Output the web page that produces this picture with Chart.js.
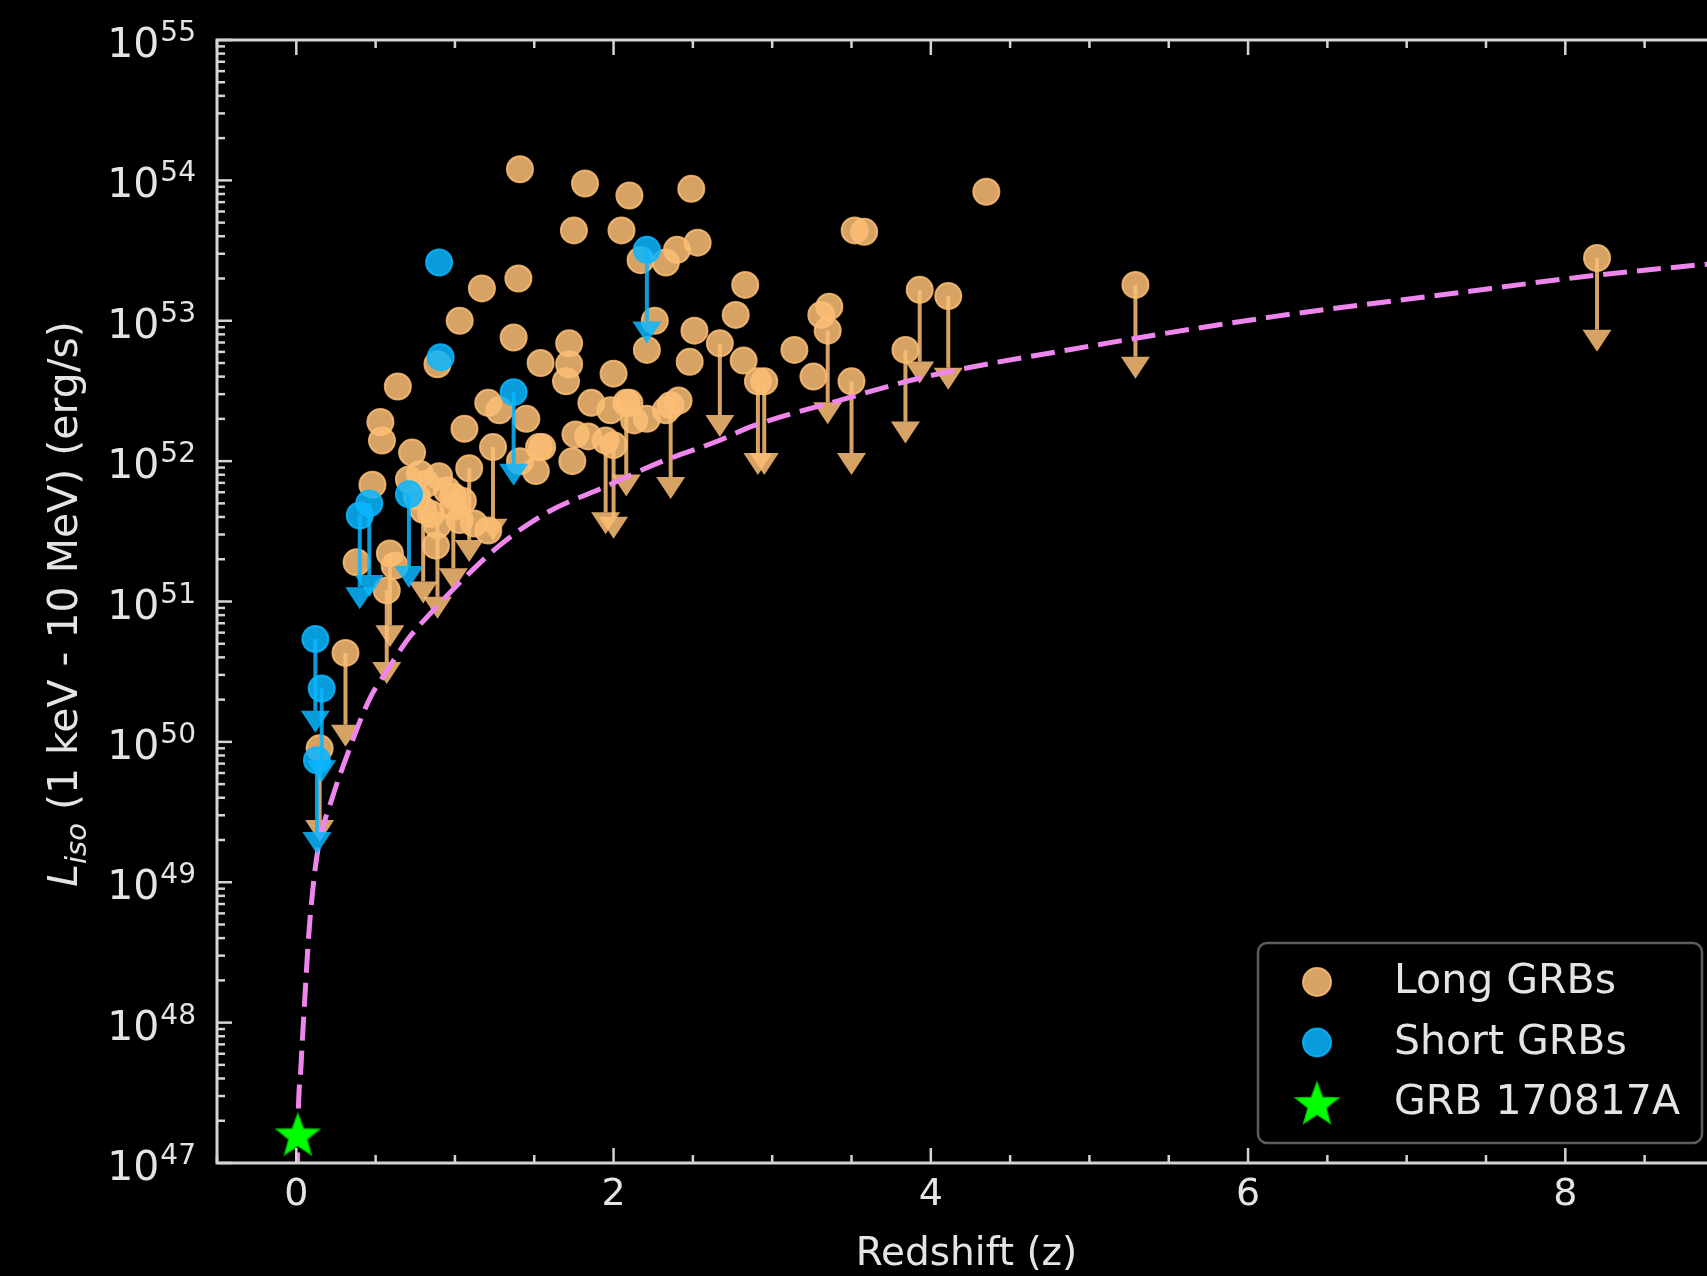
<!DOCTYPE html>
<html>
<head>
<meta charset="utf-8">
<title>GRB luminosity vs redshift</title>
<script src="https://cdn.jsdelivr.net/npm/chart.js@4.4.1/dist/chart.umd.min.js"></script>
<style>
html,body{margin:0;padding:0;background:#000;overflow:hidden;}
canvas{display:block;}
</style>
</head>
<body>
<canvas id="graficoGRB" width="1740" height="1276"></canvas>
<script>

// long bursts with a measured luminosity
const longZ = [
    1.41, 1.82, 2.10, 2.49, 4.35, 1.75, 2.05, 3.52, 3.58, 2.17,
    2.33, 2.40, 2.53, 1.17, 1.40, 1.03, 1.37, 0.89, 0.64, 1.54,
    1.72, 1.72, 1.70, 2.83, 2.77, 2.26, 2.51, 2.48, 2.21, 2.82,
    3.14, 3.26, 3.31, 3.36, 2.00, 0.53, 0.54, 0.73, 1.06, 1.21,
    1.28, 1.45, 1.53, 1.74, 1.86, 1.98, 2.10, 2.21, 2.41, 2.33,
    1.41, 1.51, 1.55, 1.76, 1.84, 2.13, 0.48, 0.38, 0.71, 0.78,
    0.82, 0.90, 0.95, 0.99, 1.03, 0.88, 1.21, 0.62, 0.76, 0.85,
    1.05, 1.12
];
const longL = [
    1.2e54, 9.5e53, 7.8e53, 8.7e53, 8.3e53, 4.4e53, 4.4e53, 4.4e53, 4.3e53, 2.7e53,
    2.6e53, 3.2e53, 3.6e53, 1.7e53, 2.0e53, 1.0e53, 7.6e52, 4.9e52, 3.4e52, 5.0e52,
    6.9e52, 4.9e52, 3.7e52, 1.8e53, 1.1e53, 1.0e53, 8.5e52, 5.1e52, 6.2e52, 5.2e52,
    6.2e52, 4.0e52, 1.1e53, 1.26e53, 4.2e52, 1.9e52, 1.4e52, 1.15e52, 1.7e52, 2.6e52,
    2.3e52, 2.0e52, 1.26e52, 1.0e52, 2.6e52, 2.3e52, 2.6e52, 2.0e52, 2.7e52, 2.3e52,
    1.0e52, 8.5e51, 1.26e52, 1.55e52, 1.5e52, 1.95e52, 6.8e51, 1.9e51, 7.4e51, 8.1e51,
    6.9e51, 7.8e51, 6.2e51, 4.7e51, 3.8e51, 2.5e51, 3.2e51, 1.8e51, 5.6e51, 4.2e51,
    5.2e51, 3.6e51
];

// long bursts with upper limits only
const longLimZ = [
    1.24, 1.09, 0.59, 0.57, 0.80, 0.89, 0.99, 1.95, 2.00, 2.08,
    2.36, 2.67, 2.91, 2.95, 3.35, 3.50, 3.84, 3.93, 4.11, 5.29,
    8.20, 0.31, 0.147
];
const longLimL = [
    1.26e52, 8.9e51, 2.2e51, 1.2e51, 4.5e51, 3.5e51, 5.6e51, 1.4e52, 1.3e52, 2.6e52,
    2.5e52, 6.9e52, 3.7e52, 3.7e52, 8.5e52, 3.7e52, 6.2e52, 1.66e53, 1.5e53, 1.8e53,
    2.8e53, 4.3e50, 9.0e49
];

// short bursts
const shortZ = [0.90, 0.91];
const shortL = [2.6e53, 5.5e52];
const shortLimZ = [2.21, 1.37, 0.71, 0.46, 0.40, 0.12, 0.16, 0.13];
const shortLimL = [3.2e53, 3.1e52, 5.8e51, 5.0e51, 4.1e51, 5.4e50, 2.4e50, 7.4e49];

// GRB 170817A
const starZ = [0.0098];
const starL = [1.6e47];

// detection threshold curve
const curveZ = [
    0.007, 0.0098, 0.029, 0.053, 0.079, 0.108, 0.14, 0.23, 0.316, 0.46,
    0.57, 0.715, 0.84, 1.0, 1.28, 1.58, 1.91, 2.31, 2.65, 2.88,
    3.42, 3.97, 4.9, 6.16, 7.26, 8.18, 9.0
];
const curveL = [
    8e46, 1.6e47, 4.8e47, 1.45e48, 4.3e48, 9.8e48, 1.8e49, 4.1e49, 7.8e49, 2.0e50,
    3.2e50, 5.6e50, 8.1e50, 1.26e51, 2.5e51, 4.3e51, 6.3e51, 1.0e52, 1.38e52, 1.78e52,
    2.7e52, 4.0e52, 6.3e52, 1.07e53, 1.55e53, 2.1e53, 2.6e53
];

// axes
const xMin = -0.5;
const xMax = 8.95;
const xTicks = [0, 2, 4, 6, 8];
const yExp = [47, 48, 49, 50, 51, 52, 53, 54, 55];

const FONT = "\"DejaVu Sans\", sans-serif";
const TEXT = "#e4e4e4";
const AXIS = "#d4d4d4";
const ORANGE = "rgba(250,190,116,0.86)";
const BLUE = "rgba(10,182,255,0.86)";
const VIOLET = "#ee86ee";
const arrowDrop = 0.215;

function pontos(zs, ls){
    return zs.map((z, i)=>({x:z, y:ls[i]}));
}

function fazerEstrela(r){

    const c = document.createElement("canvas");
    const s = Math.ceil(r * 2 + 4);
    c.width = s;
    c.height = s;

    const g = c.getContext("2d");
    g.beginPath();
    for(let i = 0; i < 10; i++){
        const rad = i % 2 === 0 ? r : r * 0.42;
        const ang = -Math.PI / 2 + i * Math.PI / 5;
        const px = s / 2 + rad * Math.cos(ang);
        const py = s / 2 + 2 + rad * Math.sin(ang);
        if(i === 0) g.moveTo(px, py); else g.lineTo(px, py);
    }
    g.closePath();
    g.fillStyle = "#00ff00";
    g.fill();
    g.strokeStyle = "#00b800";
    g.lineWidth = 1.2;
    g.stroke();

    return c;
}

const estrela = fazerEstrela(23);

function seta(ctx, x, y0, y1, cor){

    const head = 22;
    const half = 14.5;

    ctx.strokeStyle = cor;
    ctx.lineWidth = 4;
    ctx.beginPath();
    ctx.moveTo(x, y0);
    ctx.lineTo(x, y1 - head);
    ctx.stroke();

    ctx.fillStyle = cor;
    ctx.beginPath();
    ctx.moveTo(x - half, y1 - head);
    ctx.lineTo(x + half, y1 - head);
    ctx.lineTo(x, y1);
    ctx.closePath();
    ctx.fill();
}

function linha(ctx, x0, y0, x1, y1){
    ctx.beginPath();
    ctx.moveTo(x0, y0);
    ctx.lineTo(x1, y1);
    ctx.stroke();
}

const molduraPlugin = {
    id:"moldura",

    afterDatasetDraw(chart, args){

        const ds = chart.data.datasets[args.index];
        if(!ds.limites) return;

        const ctx = chart.ctx;
        const a = chart.chartArea;
        const xs = chart.scales.x;
        const ys = chart.scales.y;

        ctx.save();
        ctx.beginPath();
        ctx.rect(a.left, a.top, a.right - a.left, a.bottom - a.top);
        ctx.clip();

        ds.data.forEach((p, i)=>{
            if(!ds.limites[i]) return;
            const x = xs.getPixelForValue(p.x);
            seta(ctx, x, ys.getPixelForValue(p.y), ys.getPixelForValue(p.y * arrowDrop), ds.borderColor);
        });

        ctx.restore();
    },

    afterDraw(chart){

        const ctx = chart.ctx;
        const a = chart.chartArea;
        const xs = chart.scales.x;
        const ys = chart.scales.y;

        ctx.save();
        ctx.strokeStyle = AXIS;
        ctx.lineWidth = 2.5;

        // inward ticks, bottom and top
        for(let v = xMin; v <= xMax + 1e-9; v += 0.5){
            const px = xs.getPixelForValue(v);
            const len = xTicks.includes(v) ? 15 : 8;
            linha(ctx, px, a.bottom, px, a.bottom - len);
            linha(ctx, px, a.top, px, a.top + len);
        }

        // inward ticks, left
        yExp.forEach(p=>{
            const py = ys.getPixelForValue(Math.pow(10, p));
            linha(ctx, a.left, py, a.left + 15, py);
            if(p === yExp[yExp.length - 1]) return;
            for(let m = 2; m <= 9; m++){
                const pm = ys.getPixelForValue(m * Math.pow(10, p));
                linha(ctx, a.left, pm, a.left + 8, pm);
            }
        });

        ctx.lineWidth = 3;
        ctx.strokeRect(a.left, a.top, a.right - a.left, a.bottom - a.top);

        ctx.fillStyle = TEXT;

        // x tick labels
        ctx.font = "38px " + FONT;
        ctx.textAlign = "center";
        ctx.textBaseline = "alphabetic";
        xTicks.forEach(v=>{
            ctx.fillText(String(v), xs.getPixelForValue(v), 1205);
        });

        // y tick labels, 10 with a raised exponent
        ctx.textAlign = "left";
        yExp.forEach(p=>{
            const py = ys.getPixelForValue(Math.pow(10, p));
            ctx.font = "28px " + FONT;
            const wExp = ctx.measureText(String(p)).width;
            ctx.font = "41px " + FONT;
            const wBase = ctx.measureText("10").width;
            const xExp = 196 - wExp;
            ctx.fillText("10", xExp - 1 - wBase, py + 17);
            ctx.font = "28px " + FONT;
            ctx.fillText(String(p), xExp, py + 1);
        });

        // x title
        ctx.font = "39px " + FONT;
        ctx.textAlign = "center";
        ctx.fillText("Redshift (z)", (a.left + a.right) / 2, 1265);

        // y title
        ctx.save();
        ctx.translate(77, 604);
        ctx.rotate(-Math.PI / 2);
        ctx.textAlign = "left";
        const resto = " (1 keV - 10 MeV) (erg/s)";
        ctx.font = "italic 41px " + FONT;
        const wL = ctx.measureText("L").width;
        ctx.font = "italic 29px " + FONT;
        const wIso = ctx.measureText("iso").width;
        ctx.font = "41px " + FONT;
        const wResto = ctx.measureText(resto).width;
        let tx = -(wL + wIso + wResto) / 2;
        ctx.font = "italic 41px " + FONT;
        ctx.fillText("L", tx, 0);
        tx += wL;
        ctx.font = "italic 29px " + FONT;
        ctx.fillText("iso", tx, 9);
        tx += wIso;
        ctx.font = "41px " + FONT;
        ctx.fillText(resto, tx, 0);
        ctx.restore();

        // legend
        const bx = 1258, by = 943, bw = 444, bh = 200;
        ctx.fillStyle = "rgba(0,0,0,0.8)";
        ctx.strokeStyle = "#5c5c5c";
        ctx.lineWidth = 2.5;
        ctx.beginPath();
        ctx.roundRect(bx, by, bw, bh, 9);
        ctx.fill();
        ctx.stroke();

        const itens = chart.data.datasets.filter(ds=>ds.label);
        itens.forEach((ds, i)=>{
            const cy = 982 + i * 60.5;
            if(ds.pointStyle === estrela){
                ctx.drawImage(estrela, 1317 - estrela.width / 2, cy - estrela.height / 2);
            }else{
                ctx.fillStyle = ds.backgroundColor;
                ctx.strokeStyle = ds.borderColor;
                ctx.lineWidth = 2;
                ctx.beginPath();
                ctx.arc(1317, cy, 14, 0, Math.PI * 2);
                ctx.fill();
                ctx.stroke();
            }
            ctx.fillStyle = TEXT;
            ctx.font = "41px " + FONT;
            ctx.textAlign = "left";
            ctx.fillText(ds.label, 1394, cy + 11);
        });

        ctx.restore();
    }
};

const longPts = pontos(longZ, longL).concat(pontos(longLimZ, longLimL));
const longFlags = longZ.map(()=>false).concat(longLimZ.map(()=>true));
const shortPts = pontos(shortZ, shortL).concat(pontos(shortLimZ, shortLimL));
const shortFlags = shortZ.map(()=>false).concat(shortLimZ.map(()=>true));

const ctx = document.getElementById("graficoGRB");

const chartGRB = new Chart(ctx, {
    type:"scatter",
    data:{
        datasets:[
            {
                label:"Long GRBs",
                data:longPts,
                limites:longFlags,
                backgroundColor:ORANGE,
                borderColor:ORANGE,
                borderWidth:2,
                pointRadius:13,
                order:3
            },
            {
                label:"Short GRBs",
                data:shortPts,
                limites:shortFlags,
                backgroundColor:BLUE,
                borderColor:BLUE,
                borderWidth:2,
                pointRadius:13,
                order:1
            },
            {
                label:"GRB 170817A",
                data:pontos(starZ, starL),
                pointStyle:estrela,
                backgroundColor:"#00ff00",
                borderColor:"#00ff00",
                pointRadius:23,
                order:0
            },
            {
                type:"line",
                label:"",
                data:pontos(curveZ, curveL),
                borderColor:VIOLET,
                borderWidth:5,
                borderDash:[24, 10],
                pointRadius:0,
                fill:false,
                cubicInterpolationMode:"monotone",
                order:2
            }
        ]
    },
    options:{
        responsive:false,
        devicePixelRatio:1,
        animation:false,
        events:[],
        layout:{
            padding:{top:40, right:15, left:0, bottom:0}
        },
        plugins:{
            legend:{display:false},
            tooltip:{enabled:false}
        },
        scales:{
            x:{
                type:"linear",
                min:xMin,
                max:xMax,
                grid:{display:false},
                border:{display:false},
                ticks:{display:false},
                afterBuildTicks:function(scale){
                    scale.ticks = xTicks.map(v=>({value:v}));
                },
                afterFit:function(scale){
                    scale.height = 113;
                }
            },
            y:{
                type:"logarithmic",
                min:1e47,
                max:1e55,
                grid:{display:false},
                border:{display:false},
                ticks:{display:false},
                afterBuildTicks:function(scale){
                    scale.ticks = yExp.map(p=>({value:Math.pow(10, p)}));
                },
                afterFit:function(scale){
                    scale.width = 217;
                }
            }
        }
    },
    plugins:[molduraPlugin]
});

</script>
</body>
</html>
